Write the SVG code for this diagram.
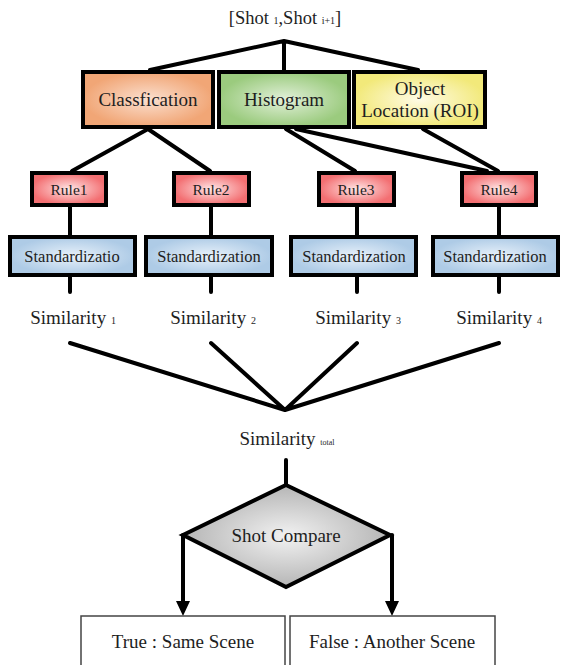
<svg xmlns="http://www.w3.org/2000/svg" width="564" height="665" viewBox="0 0 564 665">
<style>
text{font-family:"Liberation Serif","DejaVu Serif",serif;fill:#1e1e1e;text-anchor:middle}
.big{font-size:19px}
.title{font-size:18.5px}
.rule{font-size:15.5px}
.std{font-size:16.5px}
.sub{font-size:10px}
.box{stroke:#000;stroke-width:4}
.con{stroke:#000;stroke-width:4;fill:none;stroke-linecap:round}
.thin{fill:#fff;stroke:#444;stroke-width:1.5}
</style>
<defs>
<radialGradient id="gOr"><stop offset="0" stop-color="#fbe0d0"/><stop offset="1" stop-color="#f1a676"/></radialGradient>
<radialGradient id="gGr"><stop offset="0" stop-color="#e2f0da"/><stop offset="1" stop-color="#9bcb7e"/></radialGradient>
<radialGradient id="gYe"><stop offset="0" stop-color="#fffbe6"/><stop offset="1" stop-color="#f2e97a"/></radialGradient>
<radialGradient id="gRe"><stop offset="0" stop-color="#ffe6e6"/><stop offset="1" stop-color="#f36f72"/></radialGradient>
<radialGradient id="gBl"><stop offset="0" stop-color="#e8f1fa"/><stop offset="1" stop-color="#aecbe6"/></radialGradient>
<radialGradient id="gGy"><stop offset="0" stop-color="#f2f2f2"/><stop offset="1" stop-color="#b5b5b5"/></radialGradient>
</defs>

<g id="connectors">
<path class="con" d="M284,41 L150,70 M284,41 L284,70 M284,41 L418,70"/>
<path class="con" d="M148,129 L72,171 M148,129 L210,171"/>
<path class="con" d="M286,129 L355,171 M296,129 L487,171 M423,129 L498,171"/>
<path class="con" d="M70,207 L70,235 M211,207 L211,235 M357,207 L357,235 M499,207 L499,235"/>
<path class="con" d="M70,277 L70,292 M211,277 L211,292 M357,277 L357,292 M499,277 L499,292"/>
<path class="con" d="M70,343 L285,410 M211,343 L285,410 M357,343 L285,410 M499,343 L285,410"/>
<path class="con" d="M286,460 L286,485"/>
<path class="con" d="M183,535 L183,603 M392,535 L392,603" stroke-linecap="butt"/>
<path d="M176,601 L190,601 L183,616 Z M385,601 L399,601 L392,616 Z" fill="#000"/>
</g>

<g id="title"><text class="title" x="285" y="24">[Shot <tspan class="sub">1</tspan>,Shot <tspan class="sub">i+1</tspan>]</text></g>

<g id="classification"><rect class="box" x="83" y="72" width="130" height="55" fill="url(#gOr)"/><text class="big" x="148" y="106">Classfication</text></g>
<g id="histogram"><rect class="box" x="219" y="72" width="130" height="55" fill="url(#gGr)"/><text class="big" x="284" y="106">Histogram</text></g>
<g id="object"><rect class="box" x="354" y="72" width="131" height="55" fill="url(#gYe)"/><text class="big" x="420" y="95">Object</text><text class="big" x="420" y="117">Location (ROI)</text></g>

<g id="rule1"><rect class="box" x="32" y="173" width="74" height="32" fill="url(#gRe)"/><text class="rule" x="69" y="195">Rule1</text></g>
<g id="rule2"><rect class="box" x="174" y="173" width="75" height="32" fill="url(#gRe)"/><text class="rule" x="211" y="195">Rule2</text></g>
<g id="rule3"><rect class="box" x="319" y="173" width="75" height="32" fill="url(#gRe)"/><text class="rule" x="356" y="195">Rule3</text></g>
<g id="rule4"><rect class="box" x="462" y="173" width="74" height="32" fill="url(#gRe)"/><text class="rule" x="499" y="195">Rule4</text></g>

<g id="std1"><rect class="box" x="10" y="237" width="125" height="38" fill="url(#gBl)"/><text class="std" x="72" y="262">Standardizatio</text></g>
<g id="std2"><rect class="box" x="146" y="237" width="126" height="38" fill="url(#gBl)"/><text class="std" x="209" y="262">Standardization</text></g>
<g id="std3"><rect class="box" x="291" y="237" width="125" height="38" fill="url(#gBl)"/><text class="std" x="354" y="262">Standardization</text></g>
<g id="std4"><rect class="box" x="433" y="237" width="125" height="38" fill="url(#gBl)"/><text class="std" x="495" y="262">Standardization</text></g>

<g id="sim1"><text class="big" x="73" y="324">Similarity <tspan class="sub">1</tspan></text></g>
<g id="sim2"><text class="big" x="213" y="324">Similarity <tspan class="sub">2</tspan></text></g>
<g id="sim3"><text class="big" x="358" y="324">Similarity <tspan class="sub">3</tspan></text></g>
<g id="sim4"><text class="big" x="499" y="324">Similarity <tspan class="sub">4</tspan></text></g>

<g id="simtotal"><text class="big" x="287" y="445">Similarity <tspan style="font-size:8px">total</tspan></text></g>

<g id="compare"><path d="M286,485 L390,535 L286,587 L183,535 Z" fill="url(#gGy)" stroke="#000" stroke-width="4" stroke-linejoin="miter"/><text class="big" x="286" y="542">Shot Compare</text></g>

<g id="true"><rect class="thin" x="81" y="616" width="204" height="60"/><text class="big" x="183" y="648">True : Same Scene</text></g>
<g id="false"><rect class="thin" x="290" y="616" width="205" height="60"/><text class="big" x="392" y="648">False : Another Scene</text></g>
</svg>
